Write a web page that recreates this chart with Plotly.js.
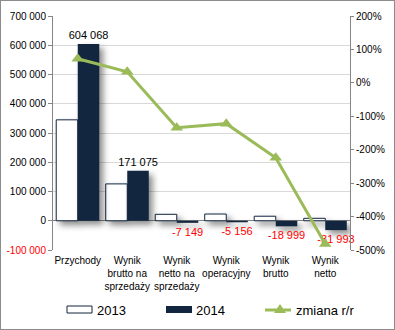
<!DOCTYPE html>
<html>
<head>
<meta charset="utf-8">
<script src="https://cdn.plot.ly/plotly-3.0.1.min.js"></script>
<style>
  html, body { margin: 0; padding: 0; background: #fff; }
  #frame { position: absolute; left: 0; top: 0; width: 393px; height: 328px; border: 1px solid #8c8c8c; }
  #chart { position: absolute; left: 0; top: 0; width: 395px; height: 330px; }
  #chart .barlayer .point path { filter: drop-shadow(4px 4px 3px rgba(0,0,0,0.45)); }
</style>
</head>
<body>
<div id="chart"></div>
<div id="frame"></div>
<script>
// ---- data ----
const categories = ['Przychody', 'Wynik<br>brutto na<br>sprzedaży', 'Wynik<br>netto na<br>sprzedaży', 'Wynik<br>operacyjny', 'Wynik<br>brutto', 'Wynik<br>netto'];
const values2013 = [345000, 126000, 22000, 23000, 15500, 8300];
const values2014 = [604068, 171075, -7149, -5156, -18999, -31993];
const labels2014 = ['604 068', '171 075', '-7 149', '-5 156', '-18 999', '-31 993'];
const zmianaRR = [72, 33, -134, -122, -224, -482];
const leftTicks = [-100000, 0, 100000, 200000, 300000, 400000, 500000, 600000, 700000];
const leftTickLabels = ['-100 000', '0', '100 000', '200 000', '300 000', '400 000', '500 000', '600 000', '700 000'];
const rightTicks = [-500, -400, -300, -200, -100, 0, 100, 200];
const rightTickLabels = ['-500%', '-400%', '-300%', '-200%', '-100%', '0%', '100%', '200%'];
const seriesNames = ['2013', '2014', 'zmiana r/r'];

// ---- styles ----
const navy = '#12263f';
const green = '#9bbb59';
const red = '#ff0000';
const fontFam = '"Liberation Sans", Arial, sans-serif';

const W = 395, H = 330, mL = 53, mR = 45, mT = 16, mB = 80;
const pw = W - mL - mR, ph = H - mT - mB;
const px = x => (x - mL) / pw;
const py = y => (H - mB - y) / ph;

const leftTickText = leftTickLabels.map((t, i) => leftTicks[i] < 0 ? '<span style="color:' + red + '">' + t + '</span>' : t);

const traces = [
  {
    type: 'bar', name: seriesNames[0], x: categories, y: values2013,
    marker: { color: '#ffffff', line: { color: navy, width: 1 } },
    hoverinfo: 'skip'
  },
  {
    type: 'bar', name: seriesNames[1], x: categories, y: values2014,
    marker: { color: navy, line: { width: 0 } },
    text: labels2014, textposition: 'outside', cliponaxis: false, constraintext: 'none',
    textfont: { size: 11, family: fontFam, color: values2014.map(v => v < 0 ? red : '#000') },
    hoverinfo: 'skip'
  },
  {
    type: 'scatter', mode: 'lines+markers', name: seriesNames[2], x: categories, y: zmianaRR,
    yaxis: 'y2', line: { color: green, width: 3 },
    marker: { symbol: 'triangle-up', size: 11, color: green },
    cliponaxis: false, hoverinfo: 'skip'
  }
];

// custom legend (Excel-like symbols)
const legY = 310;
const shapes = [
  { type: 'rect', xref: 'paper', yref: 'paper', x0: px(67), x1: px(92), y0: py(313), y1: py(306), line: { color: navy, width: 1 }, fillcolor: '#fff' },
  { type: 'rect', xref: 'paper', yref: 'paper', x0: px(166), x1: px(192), y0: py(313), y1: py(306), line: { width: 0 }, fillcolor: navy },
  { type: 'line', xref: 'paper', yref: 'paper', x0: px(265), x1: px(291), y0: py(legY), y1: py(legY), line: { color: green, width: 3 } },
  { type: 'path', xref: 'paper', yref: 'paper', path: 'M' + px(274) + ',' + py(313) + ' L' + px(286) + ',' + py(313) + ' L' + px(280) + ',' + py(304) + ' Z', fillcolor: green, line: { width: 0 } }
];
const annotations = [
  { xref: 'paper', yref: 'paper', x: px(95), y: py(legY), text: seriesNames[0], showarrow: false, xanchor: 'left', yanchor: 'middle', font: { size: 13, family: fontFam, color: '#000' } },
  { xref: 'paper', yref: 'paper', x: px(194), y: py(legY), text: seriesNames[1], showarrow: false, xanchor: 'left', yanchor: 'middle', font: { size: 13, family: fontFam, color: '#000' } },
  { xref: 'paper', yref: 'paper', x: px(294), y: py(legY), text: seriesNames[2], showarrow: false, xanchor: 'left', yanchor: 'middle', font: { size: 13, family: fontFam, color: '#000' } }
];

const layout = {
  width: W, height: H,
  margin: { l: mL, r: mR, t: mT, b: mB, pad: 0 },
  paper_bgcolor: '#fff', plot_bgcolor: '#fff',
  font: { family: fontFam, size: 10, color: '#000' },
  showlegend: false,
  barmode: 'group', bargap: 0.13, bargroupgap: 0,
  xaxis: {
    type: 'category', showgrid: false, zeroline: false, showline: true, linecolor: '#ffffff', linewidth: 2,
    ticks: '', tickfont: { size: 10, family: fontFam, color: '#000' }, fixedrange: true
  },
  yaxis: {
    range: [-100000, 700000], tickvals: leftTicks, ticktext: leftTickText,
    showgrid: true, gridcolor: '#d9d9d9', gridwidth: 1,
    zeroline: true, zerolinecolor: '#868686', zerolinewidth: 1,
    showline: true, linecolor: '#868686', linewidth: 1,
    ticks: 'outside', ticklen: 4, tickcolor: '#868686',
    tickfont: { size: 10, family: fontFam, color: '#000' }
  },
  yaxis2: {
    overlaying: 'y', side: 'right', range: [-500, 200],
    tickvals: rightTicks, ticktext: rightTickLabels,
    showgrid: false, zeroline: false,
    showline: true, linecolor: '#868686', linewidth: 1,
    ticks: 'outside', ticklen: 3, tickcolor: '#868686',
    tickfont: { size: 10, family: fontFam, color: '#000' }
  },
  shapes: shapes,
  annotations: annotations
};

Plotly.newPlot('chart', traces, layout, { staticPlot: true, displayModeBar: false });
</script>
</body>
</html>
